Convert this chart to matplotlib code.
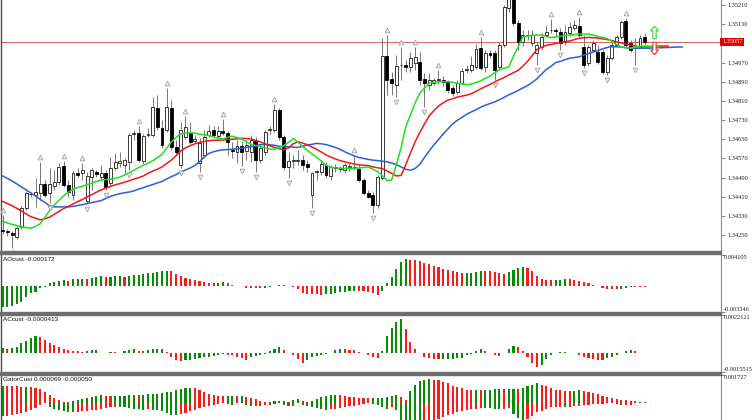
import numpy as np
import matplotlib
matplotlib.use("Agg")
import matplotlib.pyplot as plt
import matplotlib.transforms as mtransforms
from matplotlib.path import Path

# candles, oldest first
open_ = [1.34270, 1.34268, 1.34259, 1.34243, 1.34284, 1.34364, 1.34422, 1.34418, 1.34426, 1.34464,
         1.34426, 1.34455, 1.34472, 1.34539, 1.34460, 1.34418, 1.34510, 1.34510, 1.34393, 1.34493,
         1.34515, 1.34494, 1.34510, 1.34468, 1.34530, 1.34551, 1.34543, 1.34556, 1.34672, 1.34676,
         1.34560, 1.34668, 1.34668, 1.34781, 1.34697, 1.34689, 1.34781, 1.34618, 1.34543, 1.34660,
         1.34676, 1.34643, 1.34551, 1.34585, 1.34668, 1.34689, 1.34664, 1.34685, 1.34676, 1.34606,
         1.34597, 1.34622, 1.34601, 1.34597, 1.34643, 1.34564, 1.34597, 1.34689, 1.34689, 1.34772,
         1.34660, 1.34535, 1.34560, 1.34560, 1.34564, 1.34547, 1.34418, 1.34514, 1.34514, 1.34543,
         1.34497, 1.34530, 1.34530, 1.34522, 1.34535, 1.34535, 1.34526, 1.34480, 1.34426, 1.34418,
         1.34376, 1.34489, 1.34998, 1.34902, 1.34877, 1.34960, 1.34960, 1.34952, 1.34968, 1.34973,
         1.34902, 1.34877, 1.34885, 1.34897, 1.34897, 1.34889, 1.34864, 1.34847, 1.34885, 1.34939,
         1.34939, 1.34952, 1.35031, 1.34952, 1.35010, 1.35010, 1.34952, 1.35043, 1.35198, 1.35250,
         1.35135, 1.35056, 1.35085, 1.35052, 1.35010, 1.35035, 1.35085, 1.35106, 1.35106, 1.35098,
         1.35056, 1.35093, 1.35114, 1.35123, 1.35035, 1.34968, 1.35023, 1.35014, 1.35014, 1.34931,
         1.34989, 1.35043, 1.35077, 1.35143, 1.35052, 1.35031, 1.35035, 1.35077]
high = [1.34334, 1.34276, 1.34268, 1.34289, 1.34372, 1.34435, 1.34430, 1.34489, 1.34556, 1.34480,
        1.34530, 1.34522, 1.34551, 1.34560, 1.34480, 1.34522, 1.34530, 1.34551, 1.34514, 1.34530,
        1.34522, 1.34543, 1.34522, 1.34576, 1.34593, 1.34597, 1.34572, 1.34676, 1.34689, 1.34706,
        1.34672, 1.34697, 1.34827, 1.34835, 1.34731, 1.34864, 1.34814, 1.34647, 1.34722, 1.34747,
        1.34722, 1.34668, 1.34656, 1.34689, 1.34710, 1.34706, 1.34706, 1.34735, 1.34685, 1.34639,
        1.34647, 1.34643, 1.34647, 1.34668, 1.34660, 1.34631, 1.34689, 1.34706, 1.34797, 1.34781,
        1.34668, 1.34597, 1.34585, 1.34606, 1.34585, 1.34564, 1.34514, 1.34522, 1.34564, 1.34556,
        1.34543, 1.34547, 1.34539, 1.34551, 1.34551, 1.34585, 1.34543, 1.34489, 1.34439, 1.34430,
        1.34501, 1.35073, 1.35085, 1.34931, 1.35002, 1.35035, 1.34981, 1.35014, 1.35035, 1.35014,
        1.34927, 1.34927, 1.34906, 1.34939, 1.34914, 1.34897, 1.34877, 1.34897, 1.34947, 1.34960,
        1.34998, 1.35048, 1.35077, 1.35023, 1.35023, 1.35023, 1.35056, 1.35210, 1.35273, 1.35260,
        1.35148, 1.35106, 1.35106, 1.35106, 1.35056, 1.35093, 1.35127, 1.35152, 1.35114, 1.35114,
        1.35127, 1.35139, 1.35148, 1.35160, 1.35085, 1.35043, 1.35064, 1.35043, 1.35023, 1.35002,
        1.35056, 1.35085, 1.35148, 1.35156, 1.35064, 1.35073, 1.35085, 1.35093]
low = [1.34255, 1.34247, 1.34197, 1.34234, 1.34276, 1.34355, 1.34410, 1.34368, 1.34397, 1.34410,
       1.34385, 1.34439, 1.34460, 1.34451, 1.34410, 1.34397, 1.34493, 1.34480, 1.34380, 1.34439,
       1.34493, 1.34480, 1.34439, 1.34451, 1.34522, 1.34535, 1.34510, 1.34522, 1.34647, 1.34556,
       1.34547, 1.34660, 1.34660, 1.34689, 1.34614, 1.34681, 1.34606, 1.34585, 1.34530, 1.34651,
       1.34631, 1.34635, 1.34514, 1.34572, 1.34660, 1.34660, 1.34656, 1.34668, 1.34585, 1.34572,
       1.34551, 1.34539, 1.34564, 1.34556, 1.34514, 1.34551, 1.34585, 1.34672, 1.34681, 1.34647,
       1.34522, 1.34489, 1.34530, 1.34543, 1.34522, 1.34514, 1.34364, 1.34480, 1.34501, 1.34489,
       1.34480, 1.34514, 1.34514, 1.34510, 1.34518, 1.34522, 1.34472, 1.34418, 1.34405, 1.34343,
       1.34364, 1.34480, 1.34835, 1.34835, 1.34827, 1.34897, 1.34931, 1.34931, 1.34939, 1.34877,
       1.34785, 1.34856, 1.34877, 1.34881, 1.34872, 1.34843, 1.34831, 1.34839, 1.34877, 1.34927,
       1.34931, 1.34943, 1.34939, 1.34931, 1.34989, 1.34897, 1.34939, 1.35035, 1.35181, 1.35123,
       1.35023, 1.35039, 1.35064, 1.35039, 1.34960, 1.35023, 1.35077, 1.35093, 1.35081, 1.35023,
       1.35043, 1.35081, 1.35106, 1.35077, 1.34947, 1.34956, 1.35014, 1.34964, 1.34922, 1.34918,
       1.34981, 1.35035, 1.35068, 1.35035, 1.35014, 1.34960, 1.35031, 1.35043]
close = [1.34266, 1.34262, 1.34251, 1.34280, 1.34364, 1.34426, 1.34420, 1.34430, 1.34464, 1.34418,
         1.34464, 1.34472, 1.34535, 1.34460, 1.34430, 1.34510, 1.34501, 1.34522, 1.34497, 1.34522,
         1.34505, 1.34508, 1.34451, 1.34530, 1.34556, 1.34560, 1.34564, 1.34668, 1.34676, 1.34564,
         1.34664, 1.34670, 1.34785, 1.34701, 1.34626, 1.34785, 1.34618, 1.34597, 1.34689, 1.34701,
         1.34639, 1.34651, 1.34635, 1.34660, 1.34685, 1.34668, 1.34685, 1.34676, 1.34639, 1.34601,
         1.34622, 1.34597, 1.34626, 1.34647, 1.34564, 1.34614, 1.34681, 1.34693, 1.34772, 1.34660,
         1.34535, 1.34560, 1.34562, 1.34564, 1.34543, 1.34535, 1.34510, 1.34516, 1.34547, 1.34501,
         1.34535, 1.34533, 1.34528, 1.34543, 1.34537, 1.34533, 1.34480, 1.34426, 1.34411, 1.34376,
         1.34493, 1.34998, 1.34897, 1.34886, 1.34956, 1.34958, 1.34952, 1.34989, 1.34993, 1.34897,
         1.34885, 1.34897, 1.34897, 1.34900, 1.34889, 1.34856, 1.34844, 1.34885, 1.34935, 1.34943,
         1.34960, 1.35027, 1.34947, 1.35010, 1.35002, 1.34939, 1.35043, 1.35202, 1.35252, 1.35135,
         1.35056, 1.35085, 1.35083, 1.35085, 1.35043, 1.35077, 1.35098, 1.35104, 1.35102, 1.35052,
         1.35098, 1.35118, 1.35127, 1.35085, 1.34960, 1.35035, 1.35052, 1.34973, 1.34931, 1.34989,
         1.35043, 1.35077, 1.35139, 1.35043, 1.35023, 1.35029, 1.35073, 1.35057]

# Alligator lines (already shifted forward 8 / 5 / 3 bars)
jaw = [1.34497, 1.34487, 1.34476, 1.34464, 1.34451, 1.34439, 1.34426, 1.34414, 1.34399, 1.34387,
       1.34372, 1.34368, 1.34368, 1.34368, 1.34368, 1.34370, 1.34374, 1.34377, 1.34382, 1.34386,
       1.34390, 1.34394, 1.34403, 1.34412, 1.34418, 1.34423, 1.34427, 1.34430, 1.34435, 1.34442,
       1.34448, 1.34455, 1.34461, 1.34468, 1.34474, 1.34485, 1.34494, 1.34503, 1.34514, 1.34522,
       1.34530, 1.34541, 1.34556, 1.34576, 1.34591, 1.34598, 1.34603, 1.34606, 1.34607, 1.34608,
       1.34611, 1.34613, 1.34616, 1.34619, 1.34623, 1.34628, 1.34628, 1.34627, 1.34625, 1.34621,
       1.34619, 1.34619, 1.34617, 1.34616, 1.34621, 1.34626, 1.34629, 1.34633, 1.34631, 1.34628,
       1.34622, 1.34616, 1.34608, 1.34598, 1.34589, 1.34581, 1.34574, 1.34570, 1.34566, 1.34563,
       1.34561, 1.34559, 1.34556, 1.34551, 1.34544, 1.34535, 1.34525, 1.34521, 1.34528, 1.34545,
       1.34574, 1.34601, 1.34626, 1.34649, 1.34672, 1.34693, 1.34714, 1.34729, 1.34741, 1.34754,
       1.34764, 1.34773, 1.34784, 1.34792, 1.34799, 1.34806, 1.34815, 1.34825, 1.34835, 1.34844,
       1.34854, 1.34864, 1.34874, 1.34887, 1.34902, 1.34922, 1.34941, 1.34954, 1.34970, 1.34975,
       1.34982, 1.34988, 1.34991, 1.34994, 1.35001, 1.35008, 1.35014, 1.35020, 1.35027, 1.35033,
       1.35036, 1.35036, 1.35035, 1.35032, 1.35030, 1.35030, 1.35030, 1.35030, 1.35030, 1.35031,
       1.35032, 1.35032, 1.35033, 1.35034, 1.35035, 1.35035]
teeth = [1.34391, 1.34382, 1.34373, 1.34362, 1.34351, 1.34339, 1.34327, 1.34321, 1.34314, 1.34319,
         1.34325, 1.34337, 1.34349, 1.34361, 1.34370, 1.34380, 1.34390, 1.34399, 1.34410, 1.34419,
         1.34429, 1.34439, 1.34446, 1.34454, 1.34460, 1.34465, 1.34471, 1.34477, 1.34484, 1.34490,
         1.34497, 1.34508, 1.34517, 1.34525, 1.34535, 1.34549, 1.34563, 1.34582, 1.34601, 1.34614,
         1.34623, 1.34631, 1.34637, 1.34641, 1.34644, 1.34646, 1.34646, 1.34647, 1.34649, 1.34650,
         1.34652, 1.34654, 1.34653, 1.34651, 1.34645, 1.34639, 1.34631, 1.34623, 1.34616, 1.34610,
         1.34607, 1.34614, 1.34631, 1.34640, 1.34634, 1.34627, 1.34618, 1.34608, 1.34597, 1.34585,
         1.34576, 1.34568, 1.34561, 1.34556, 1.34551, 1.34547, 1.34543, 1.34542, 1.34540, 1.34535,
         1.34531, 1.34528, 1.34518, 1.34508, 1.34497, 1.34499, 1.34543, 1.34592, 1.34639, 1.34678,
         1.34714, 1.34747, 1.34769, 1.34789, 1.34802, 1.34813, 1.34819, 1.34826, 1.34830, 1.34834,
         1.34840, 1.34850, 1.34860, 1.34870, 1.34879, 1.34889, 1.34899, 1.34908, 1.34918, 1.34928,
         1.34937, 1.34955, 1.34975, 1.34999, 1.35025, 1.35033, 1.35042, 1.35045, 1.35050, 1.35054,
         1.35057, 1.35060, 1.35066, 1.35071, 1.35073, 1.35075, 1.35074, 1.35072, 1.35069, 1.35066,
         1.35062, 1.35056, 1.35052, 1.35047, 1.35043, 1.35039, 1.35036, 1.35036, 1.35036, 1.35038,
         1.35039, 1.35039, 1.35039]
lips = [1.34308, 1.34301, 1.34295, 1.34290, 1.34285, 1.34282, 1.34279, 1.34286, 1.34298, 1.34324,
        1.34353, 1.34376, 1.34395, 1.34414, 1.34429, 1.34441, 1.34448, 1.34454, 1.34461, 1.34467,
        1.34474, 1.34480, 1.34482, 1.34483, 1.34487, 1.34492, 1.34501, 1.34510, 1.34521, 1.34532,
        1.34542, 1.34550, 1.34560, 1.34573, 1.34587, 1.34613, 1.34639, 1.34658, 1.34673, 1.34676,
        1.34677, 1.34676, 1.34671, 1.34669, 1.34665, 1.34659, 1.34654, 1.34651, 1.34658, 1.34663,
        1.34657, 1.34651, 1.34640, 1.34629, 1.34624, 1.34621, 1.34615, 1.34609, 1.34609, 1.34615,
        1.34624, 1.34637, 1.34653, 1.34638, 1.34620, 1.34604, 1.34589, 1.34574, 1.34559, 1.34542,
        1.34534, 1.34531, 1.34529, 1.34529, 1.34529, 1.34529, 1.34530, 1.34532, 1.34535, 1.34525,
        1.34515, 1.34499, 1.34478, 1.34480, 1.34543, 1.34614, 1.34701, 1.34751, 1.34801, 1.34841,
        1.34864, 1.34884, 1.34887, 1.34890, 1.34890, 1.34890, 1.34888, 1.34884, 1.34881, 1.34878,
        1.34880, 1.34887, 1.34894, 1.34904, 1.34914, 1.34927, 1.34940, 1.34946, 1.34952, 1.34996,
        1.35035, 1.35078, 1.35080, 1.35084, 1.35085, 1.35085, 1.35079, 1.35074, 1.35077, 1.35080,
        1.35083, 1.35085, 1.35087, 1.35089, 1.35089, 1.35089, 1.35085, 1.35079, 1.35075, 1.35070,
        1.35059, 1.35045, 1.35035, 1.35032, 1.35030, 1.35035, 1.35037, 1.35039, 1.35038, 1.35037,
        1.35036]

# bars carrying a fractal mark
fractal_up = [0, 8, 13, 17, 29, 35, 39, 47, 58, 75, 82, 85, 88, 93, 102, 117, 123, 133]
fractal_dn = [2, 10, 18, 22, 27, 38, 42, 51, 54, 61, 66, 79, 84, 90, 105, 114, 119, 124, 129, 135]

# the two hollow signal arrows right of the last bar
signal_bar = 139
signal_buy = 1.35098
signal_sell = 1.35031

price_ticks = [1.34250, 1.34330, 1.34410, 1.34490, 1.34570, 1.34650, 1.34730,
               1.34810, 1.34890, 1.34970, 1.35050, 1.35130, 1.35210]

# oscillators, in points (1e-5)
ao_pts = [-274, -274, -261, -235, -209, -144, -91, -78, -26, -4,
          39, 52, 65, 78, 76, 91, 94, 97, 94, 105,
          118, 131, 124, 128, 131, 133, 124, 131, 144, 150,
          157, 170, 176, 183, 196, 203, 196, 157, 131, 111,
          95, 78, 69, 56, 48, 43, 47, 52, 43, 22,
          9, 3, -20, -21, -22, -26, -20, -13, 4, 20,
          16, 3, -13, -39, -91, -95, -99, -105, -106, -101,
          -95, -88, -78, -69, -65, -56, -60, -65, -78, -88,
          -108, -65, 39, 118, 222, 323, 357, 344, 340, 327,
          305, 288, 271, 248, 231, 218, 196, 183, 174, 176,
          178, 183, 203, 199, 196, 187, 174, 166, 192, 218,
          239, 252, 239, 196, 140, 95, 88, 82, 88, 89,
          95, 93, 88, 75, 61, 39, 17, 0, -26, -29,
          -33, -35, -30, -17, -7, -8, -9, -10]
ac_pts = [35, 26, 31, 41, 64, 79, 96, 112, 103, 85,
          68, 52, 37, 24, 18, 15, 13, 9, 15, 20,
          22, -2, 0, 5, 4, 3, 15, 20, 24, 15,
          13, 20, 23, 25, 26, 7, -28, -48, -52, -48,
          -44, -41, -35, -28, -24, -20, -15, -9, -12, -15,
          -26, -35, -46, -28, -20, -13, -7, 13, 26, 39,
          20, 0, -13, -39, -66, -46, -26, -20, -13, -7,
          3, 20, 26, 23, 22, 20, 7, -3, -13, -26,
          -36, 16, 112, 164, 203, 221, 157, 72, 26, 0,
          -26, -36, -39, -41, -39, -38, -37, -35, -30, -13,
          -7, 13, 23, 13, -3, -13, -20, -3, 26, 46,
          39, 13, -26, -66, -94, -79, -39, -13, -3, 7,
          8, 3, -3, -13, -26, -33, -39, -46, -49, -33,
          -26, -13, -3, 13, 20, 10, 3, 0]
gator_hi_pts = [106, 105, 103, 102, 100, 100, 99, 93, 85, 68,
                47, 31, 19, 7, 2, 10, 16, 22, 28, 33,
                39, 45, 43, 42, 42, 42, 44, 47, 49, 48,
                49, 53, 56, 57, 61, 64, 69, 79, 87, 92,
                93, 90, 81, 65, 53, 48, 43, 41, 42, 42,
                41, 41, 37, 32, 22, 11, 3, 4, 9, 11,
                12, 5, 14, 24, 13, 1, 11, 25, 34, 43,
                46, 48, 47, 42, 38, 34, 31, 28, 26, 28,
                30, 31, 38, 43, 47, 36, 18, 71, 111, 133,
                140, 146, 143, 140, 130, 120, 105, 97, 89, 80,
                76, 77, 76, 78, 80, 83, 84, 83, 83, 84,
                83, 91, 101, 112, 123, 111, 101, 91, 80, 79,
                75, 72, 75, 77, 72, 67, 60, 52, 42, 33,
                26, 20, 17, 15, 13, 9, 6, 6]
gator_lo_pts = [-83, -81, -78, -72, -66, -57, -48, -35, -16, -5,
                -28, -39, -46, -53, -59, -61, -58, -55, -51, -48,
                -45, -41, -36, -29, -27, -27, -30, -33, -37, -42,
                -45, -42, -43, -48, -52, -64, -76, -76, -72, -62,
                -54, -45, -34, -28, -21, -13, -8, -4, -9, -13,
                -5, -3, -13, -22, -21, -18, -16, -14, -7, -5,
                -17, -23, -22, -2, -14, -23, -29, -34, -38, -43,
                -42, -37, -32, -27, -22, -18, -13, -10, -5, -10,
                -16, -29, -40, -28, -46, -115, -158, -159, -162, -163,
                -150, -137, -118, -101, -88, -77, -69, -58, -51, -44,
                -40, -37, -34, -34, -35, -38, -41, -38, -34, -68,
                -98, -123, -105, -85, -60, -52, -37, -29, -27, -26,
                -26, -25, -21, -18, -16, -14, -11, -7, -6, -4,
                -3, -11, -17, -15, -13, -4, -1, -3]

GREEN = "#078c07"
RED = "#ff1a1a"
SERIF = "Liberation Serif"

W, H = 752, 420
fig = plt.figure(figsize=(W / 100, H / 100), dpi=100)
fig.patch.set_facecolor("white")

def panel(top, bottom):
    # pixel rows of the window -> figure fractions, same x span for all
    return fig.add_axes([1 / W, 1 - bottom / H, 720 / W, (bottom - top) / H])

ax = panel(0, 251)
ax_ao = panel(255, 312)
ax_ac = panel(315, 372)
ax_gt = panel(375, 420)

bar_px = 4.686  # one bar every ~4.7 pixels
x_lim = (-1.7 / bar_px, (720 - 1.7) / bar_px)

for a in (ax, ax_ao, ax_ac, ax_gt):
    a.set_xlim(*x_lim)
    a.set_xticks([])
    a.set_facecolor("white")
    a.spines["top"].set_visible(False)
    a.spines["bottom"].set_visible(False)
    a.spines["left"].set_color("#4a4a4a")
    a.spines["left"].set_linewidth(1.0)
    a.spines["right"].set_color("#8a8a8a")
    a.spines["right"].set_linewidth(0.8)
    a.yaxis.tick_right()
    a.tick_params(axis="y", length=3, width=0.6, color="#707070", pad=1.5,
                  labelsize=4.6, labelcolor="#202020")

# ---- price panel ----
o = np.array(open_)
h = np.array(high)
l = np.array(low)
c = np.array(close)
idx = np.arange(len(c))
bull = c >= o

ax.vlines(idx, l, h, color="#767676", lw=0.7, zorder=2)
body_lo = np.minimum(o, c)
body_h = np.maximum(np.abs(c - o), 0.000015)
ax.bar(idx[bull], body_h[bull], 0.62, body_lo[bull], color="white",
       edgecolor="#1a1a1a", linewidth=0.6, zorder=3)
ax.bar(idx[~bull], body_h[~bull], 0.62, body_lo[~bull], color="black",
       edgecolor="black", linewidth=0.6, zorder=3)

ax.plot(np.arange(len(jaw)), jaw, color="#2a5fd8", lw=1.1, zorder=4)
ax.plot(np.arange(len(teeth)), teeth, color="#f01818", lw=1.1, zorder=4)
ax.plot(np.arange(len(lips)), lips, color="#1ee01e", lw=1.1, zorder=4)

above = mtransforms.offset_copy(ax.transData, fig=fig, y=5, units="dots")
below = mtransforms.offset_copy(ax.transData, fig=fig, y=-5, units="dots")
ax.plot(fractal_up, h[fractal_up], ls="none", marker="^", ms=3.4, mfc="#f2f2f2",
        mec="#9aa0aa", mew=0.6, transform=above, zorder=5)
ax.plot(fractal_dn, l[fractal_dn], ls="none", marker="v", ms=3.4, mfc="#f2f2f2",
        mec="#9aa0aa", mew=0.6, transform=below, zorder=5)

arrow_up = Path([(0, 1), (0.62, 0.25), (0.26, 0.25), (0.26, -1), (-0.26, -1),
                 (-0.26, 0.25), (-0.62, 0.25), (0, 1)])
arrow_dn = Path([(x, -y) for x, y in arrow_up.vertices])
ax.plot([signal_bar], [signal_buy], marker=arrow_up, ms=9, mfc="white",
        mec="#3ccf3c", mew=0.8, ls="none", zorder=6)
ax.plot([signal_bar], [signal_sell], marker=arrow_dn, ms=9, mfc="white",
        mec="#e83030", mew=0.8, ls="none", zorder=6)

ax.axhline(c[-1], color="#cc4a4a", lw=0.6, zorder=1)

ax.set_ylim(1.34184, 1.35231)
ax.set_yticks(price_ticks)
# the 1.35050 label sits under the red last-price box, as in the terminal
ax.set_yticklabels(["" if abs(t - c[-1]) < 0.0002 else f"{t:.5f}" for t in price_ticks],
                   family=SERIF)

blend = mtransforms.blended_transform_factory(ax.transAxes, ax.transData)
ax.text(1.0015, c[-1], f"{c[-1]:.5f}", transform=blend, ha="left", va="center",
        fontsize=4.6, family=SERIF, color="white", zorder=10, clip_on=False,
        bbox=dict(boxstyle="square,pad=0.25", fc="#e00000", ec="none"))

# ---- oscillator panels ----
def histogram(axp, pts, use_abs=False):
    v = np.array(pts) * 1e-5
    m = np.abs(v) if use_abs else v
    rising = np.r_[True, m[1:] >= m[:-1]]
    cols = np.where(rising, GREEN, RED)
    axp.bar(np.arange(len(v)), v, 0.45, color=cols, linewidth=0, zorder=3)

def scale_labels(axp, top_txt, bot_txt):
    lo, hi = axp.get_ylim()
    axp.set_yticks([lo, hi])
    axp.set_yticklabels([])
    if top_txt:
        axp.text(1.004, 1.0, top_txt, transform=axp.transAxes, ha="left",
                 va="top", fontsize=4.6, family=SERIF, color="#202020")
    if bot_txt:
        axp.text(1.004, 0.0, bot_txt, transform=axp.transAxes, ha="left",
                 va="bottom", fontsize=4.6, family=SERIF, color="#202020")

def title(axp, txt):
    axp.text(0.003, 0.965, txt, transform=axp.transAxes, ha="left", va="top",
             fontsize=4.6, family="Liberation Sans", color="#101010")

histogram(ax_ao, ao_pts)
ax_ao.set_ylim(-0.003346, 0.004105)
scale_labels(ax_ao, "0.004105", "-0.003346")
title(ax_ao, "AOcust -0.000172")

histogram(ax_ac, ac_pts)
ax_ac.set_ylim(-0.001246, 0.002493)
scale_labels(ax_ac, "0.0022121", "-0.0015515")
title(ax_ac, "ACcust -0.0000413")

histogram(ax_gt, gator_hi_pts)
histogram(ax_gt, gator_lo_pts, use_abs=True)
ax_gt.set_ylim(-0.001086, 0.001727)
scale_labels(ax_gt, "0.001727", None)
title(ax_gt, "GatorCust 0.000069 -0.000050")

# thick grey splitters between the sub-windows
for row in (253, 313, 373):
    fig.add_artist(plt.Rectangle((0, 1 - (row + 1.5) / H), 721 / W, 3 / H,
                                 transform=fig.transFigure, color="#6e6e6e", zorder=20))

fig.savefig("out.png", dpi=100, facecolor="white")
